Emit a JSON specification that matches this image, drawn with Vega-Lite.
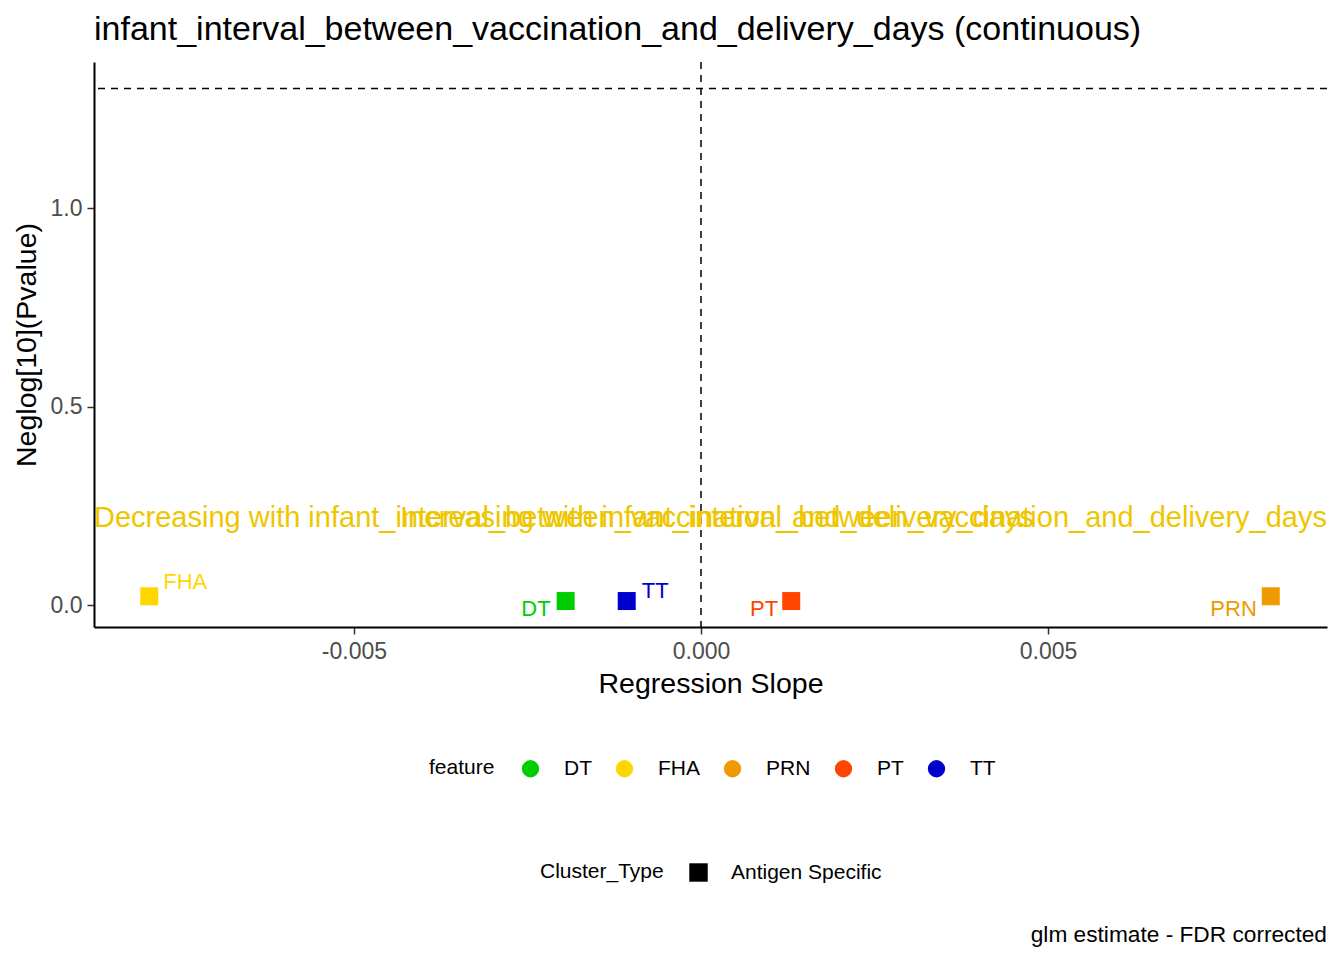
{
  "$schema": "https://vega.github.io/schema/vega-lite/v6.json",
  "background": "white",
  "padding": {"left": 12, "top": 13, "right": 16, "bottom": 10},
  "config": {
    "font": "Liberation Sans",
    "view": {"stroke": null},
    "axis": {"grid": false}
  },
  "datasets": {
    "points": [
      {"feature": "FHA", "slope": -0.00795, "neglog": 0.022, "Cluster_Type": "Antigen Specific"},
      {"feature": "DT", "slope": -0.00195, "neglog": 0.010, "Cluster_Type": "Antigen Specific"},
      {"feature": "TT", "slope": -0.00107, "neglog": 0.010, "Cluster_Type": "Antigen Specific"},
      {"feature": "PT", "slope": 0.0013, "neglog": 0.010, "Cluster_Type": "Antigen Specific"},
      {"feature": "PRN", "slope": 0.00821, "neglog": 0.022, "Cluster_Type": "Antigen Specific"}
    ],
    "notes": [
      {"side": "dec", "text": "Decreasing with infant_interval_between_vaccination_and_delivery_days", "slope": -0.008746, "neglog": 0.22},
      {"side": "inc", "text": "Increasing with infant_interval_between_vaccination_and_delivery_days", "slope": 0.00902, "neglog": 0.22}
    ],
    "vline": [{"slope": 0}],
    "hline": [{"neglog": 1.30103}]
  },
  "title": {
    "text": "glm estimate - FDR corrected",
    "orient": "bottom",
    "anchor": "end",
    "frame": "group",
    "fontSize": 22.7,
    "fontWeight": "normal",
    "color": "black",
    "offset": 41
  },
  "vconcat": [
    {
      "title": {
        "text": "infant_interval_between_vaccination_and_delivery_days (continuous)",
        "anchor": "start",
        "frame": "group",
        "fontSize": 34,
        "fontWeight": "normal",
        "color": "black",
        "offset": 14
      },
      "width": 1233,
      "height": 565,
      "encoding": {
        "x": {
          "field": "slope",
          "type": "quantitative",
          "title": "Regression Slope",
          "scale": {"domain": [-0.008746, 0.00902], "nice": false, "zero": false},
          "axis": {
            "values": [-0.005, 0, 0.005],
            "labelExpr": "datum.value < 0 ? '-' + format(-datum.value, '.3f') : format(datum.value, '.3f')",
            "labelFontSize": 23,
            "labelColor": "#4D4D4D",
            "labelPadding": 6,
            "tickColor": "#333333",
            "tickSize": 7,
            "tickWidth": 1.5,
            "domainColor": "black",
            "domainWidth": 2,
            "titleFontSize": 28.5,
            "titleFontWeight": "normal",
            "titleColor": "black",
            "titlePadding": 6
          }
        },
        "y": {
          "field": "neglog",
          "type": "quantitative",
          "title": "Neglog[10](Pvalue)",
          "scale": {"domain": [-0.0554, 1.368], "nice": false, "zero": false},
          "axis": {
            "values": [0, 0.5, 1],
            "format": ".1f",
            "labelFontSize": 23,
            "labelColor": "#4D4D4D",
            "labelPadding": 5,
            "tickColor": "#333333",
            "tickSize": 7,
            "tickWidth": 1.5,
            "domainColor": "black",
            "domainWidth": 2,
            "titleFontSize": 28.5,
            "titleFontWeight": "normal",
            "titleColor": "black",
            "titlePadding": 9
          }
        }
      },
      "layer": [
        {
          "data": {"name": "vline"},
          "mark": {"type": "rule", "color": "black", "strokeWidth": 1.5, "strokeDash": [7, 6]},
          "encoding": {"x": {"field": "slope", "type": "quantitative"}, "y": null}
        },
        {
          "data": {"name": "hline"},
          "mark": {"type": "rule", "color": "black", "strokeWidth": 1.5, "strokeDash": [7, 6]},
          "encoding": {"y": {"field": "neglog", "type": "quantitative"}, "x": null}
        },
        {
          "data": {"name": "notes"},
          "transform": [{"filter": "datum.side == 'dec'"}],
          "mark": {"type": "text", "align": "left", "baseline": "middle", "fontSize": 29, "color": "#EEC600"},
          "encoding": {"text": {"field": "text"}}
        },
        {
          "data": {"name": "notes"},
          "transform": [{"filter": "datum.side == 'inc'"}],
          "mark": {"type": "text", "align": "right", "baseline": "middle", "fontSize": 29, "color": "#EEC600"},
          "encoding": {"text": {"field": "text"}}
        },
        {
          "data": {"name": "points"},
          "mark": {"type": "point", "filled": true, "opacity": 1, "size": 324},
          "encoding": {
            "color": {
              "field": "feature",
              "type": "nominal",
              "scale": {"domain": ["DT", "FHA", "PRN", "PT", "TT"], "range": ["#00CD00", "#FFD700", "#EE9A00", "#FF4500", "#0000CD"]},
              "legend": {
                "orient": "none",
                "legendX": 335,
                "legendY": 696,
                "direction": "horizontal",
                "title": "feature",
                "titleOrient": "left",
                "titleFontSize": 21,
                "titleFontWeight": "normal",
                "titleColor": "black",
                "titlePadding": 25,
                "titleBaseline": "middle",
                "labelFontSize": 21,
                "labelColor": "black",
                "labelOffset": 23,
                "columnPadding": 22,
                "symbolType": "circle",
                "symbolSize": 300,
                "symbolOpacity": 1,
                "symbolStrokeWidth": 0
              }
            },
            "shape": {
              "field": "Cluster_Type",
              "type": "nominal",
              "scale": {"domain": ["Antigen Specific"], "range": ["square"]},
              "legend": {
                "orient": "none",
                "legendX": 446,
                "legendY": 800,
                "direction": "horizontal",
                "title": "Cluster_Type",
                "titleOrient": "left",
                "titleFontSize": 21,
                "titleFontWeight": "normal",
                "titleColor": "black",
                "titlePadding": 24,
                "titleBaseline": "middle",
                "labelFontSize": 21,
                "labelColor": "black",
                "labelOffset": 22,
                "symbolSize": 340,
                "symbolFillColor": "black",
                "symbolStrokeColor": "black",
                "symbolStrokeWidth": 0,
                "symbolOpacity": 1
              }
            }
          }
        },
        {
          "data": {"name": "points"},
          "transform": [{"filter": "datum.feature == 'FHA'"}],
          "mark": {"type": "text", "align": "left", "baseline": "middle", "dx": 14, "dy": -14, "fontSize": 22},
          "encoding": {"text": {"field": "feature"}, "color": {"field": "feature", "type": "nominal", "legend": null}}
        },
        {
          "data": {"name": "points"},
          "transform": [{"filter": "datum.feature == 'DT'"}],
          "mark": {"type": "text", "align": "right", "baseline": "middle", "dx": -15, "dy": 8, "fontSize": 22},
          "encoding": {"text": {"field": "feature"}, "color": {"field": "feature", "type": "nominal", "legend": null}}
        },
        {
          "data": {"name": "points"},
          "transform": [{"filter": "datum.feature == 'TT'"}],
          "mark": {"type": "text", "align": "left", "baseline": "middle", "dx": 15, "dy": -10, "fontSize": 22},
          "encoding": {"text": {"field": "feature"}, "color": {"field": "feature", "type": "nominal", "legend": null}}
        },
        {
          "data": {"name": "points"},
          "transform": [{"filter": "datum.feature == 'PT'"}],
          "mark": {"type": "text", "align": "right", "baseline": "middle", "dx": -13, "dy": 8, "fontSize": 22},
          "encoding": {"text": {"field": "feature"}, "color": {"field": "feature", "type": "nominal", "legend": null}}
        },
        {
          "data": {"name": "points"},
          "transform": [{"filter": "datum.feature == 'PRN'"}],
          "mark": {"type": "text", "align": "right", "baseline": "middle", "dx": -14, "dy": 13, "fontSize": 22},
          "encoding": {"text": {"field": "feature"}, "color": {"field": "feature", "type": "nominal", "legend": null}}
        }
      ]
    }
  ]
}
